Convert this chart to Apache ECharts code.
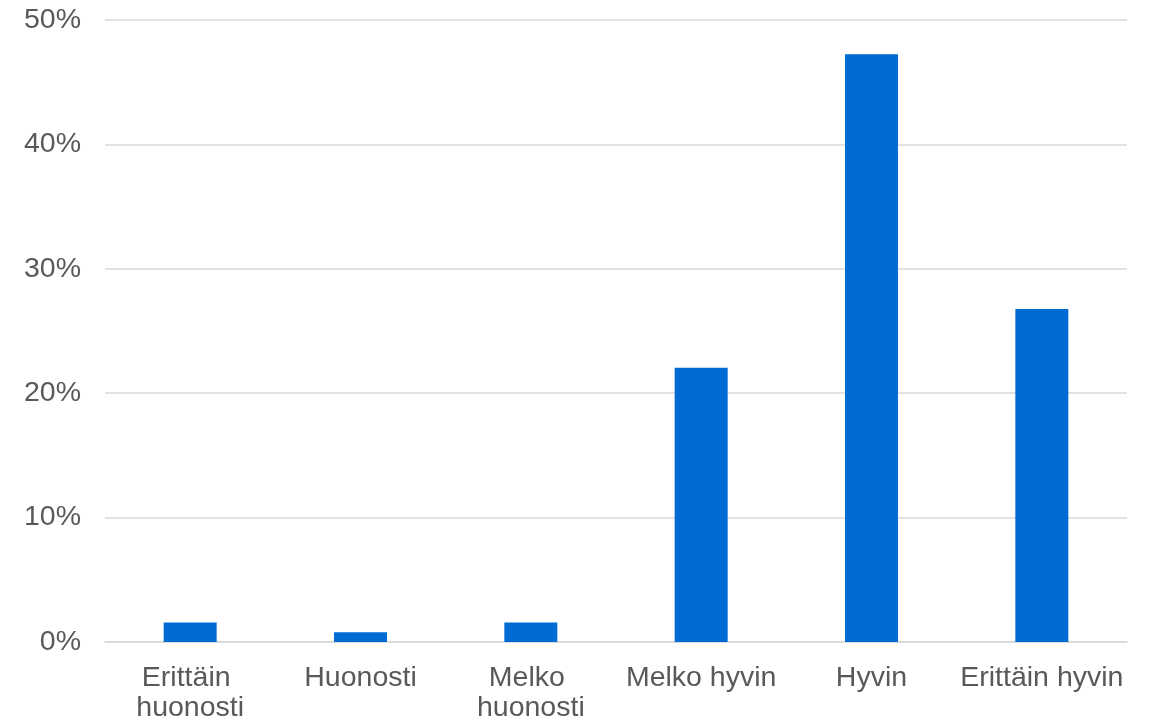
<!DOCTYPE html>
<html>
<head>
<meta charset="utf-8">
<script src="https://cdn.jsdelivr.net/npm/echarts@6/dist/echarts.min.js"></script>
<style>
html,body{margin:0;padding:0;background:#fff;}
#chart{width:1150px;height:723px;}
</style>
</head>
<body>
<div id="chart"></div>
<script>
const categories = ['Erittäin huonosti', 'Huonosti', 'Melko huonosti', 'Melko hyvin', 'Hyvin', 'Erittäin hyvin'];
const values = [1.57, 0.79, 1.57, 22.05, 47.24, 26.77];
const yTicks = { min: 0, max: 50, interval: 10 };

const chart = echarts.init(document.getElementById('chart'));
chart.setOption({
  animation: false,
  grid: { left: 105, right: 23, top: 20, bottom: 80, containLabel: false },
  xAxis: {
    type: 'category',
    data: categories,
    axisLine: { lineStyle: { color: '#d9d9d9', width: 1.5 } },
    axisTick: { show: false },
    axisLabel: {
      color: '#595959',
      fontFamily: 'Liberation Sans, Arial, sans-serif',
      fontSize: 28.5,
      lineHeight: 30,
      margin: 21,
      width: 182,
      overflow: 'break',
      interval: 0
    }
  },
  yAxis: {
    type: 'value',
    min: yTicks.min,
    max: yTicks.max,
    interval: yTicks.interval,
    axisLine: { show: false },
    axisTick: { show: false },
    splitLine: { lineStyle: { color: '#d9d9d9', width: 1.5 } },
    axisLabel: {
      formatter: '{value}%',
      color: '#595959',
      fontFamily: 'Liberation Sans, Arial, sans-serif',
      fontSize: 28.5,
      margin: 24
    }
  },
  series: [{
    type: 'bar',
    data: values,
    barWidth: 53,
    itemStyle: { color: '#006BD3' }
  }]
});
</script>
</body>
</html>
